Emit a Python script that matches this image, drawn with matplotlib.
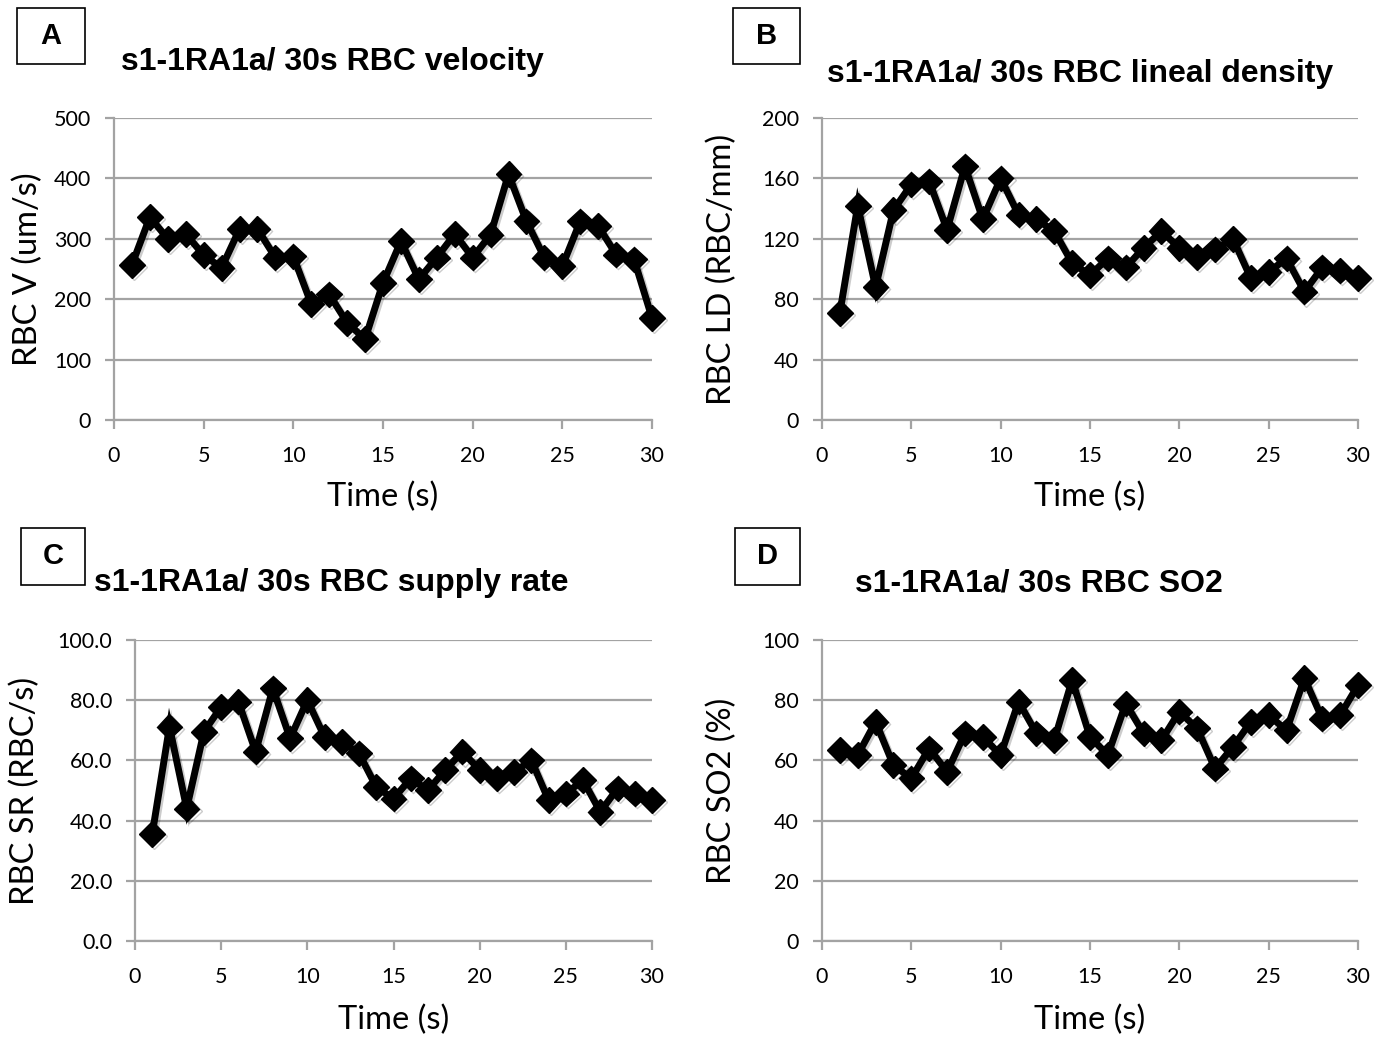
import matplotlib
matplotlib.use("Agg")
import matplotlib.pyplot as plt
import matplotlib.patheffects as pe
from matplotlib import font_manager

# seconds 1..30
time_s = list(range(1, 31))

velocity = [257, 336, 300, 308, 273, 252, 316, 316, 269, 271,
            192, 208, 161, 134, 227, 296, 233, 269, 308, 269,
            307, 407, 329, 269, 255, 329, 321, 274, 266, 169]

lineal_density = [71, 142, 88, 139, 156, 158, 126, 168, 133, 160,
                  136, 133, 125, 104, 96, 107, 101, 114, 125, 114,
                  108, 113, 120, 94, 98, 107, 85, 101, 99, 94]

supply_rate = [35.5, 71.2, 44.0, 69.5, 77.8, 79.5, 62.9, 83.9, 67.3, 80.0,
               67.8, 66.2, 62.3, 51.2, 47.3, 54.0, 50.1, 56.8, 62.9, 56.8,
               54.0, 56.2, 60.0, 46.8, 49.0, 53.4, 42.9, 50.7, 49.0, 46.8]

so2 = [63.4, 61.8, 72.8, 58.4, 54.0, 64.0, 56.2, 69.0, 67.8, 61.8,
       79.5, 69.0, 66.7, 86.7, 67.8, 61.8, 78.9, 69.0, 66.7, 76.2,
       70.6, 57.3, 64.5, 72.8, 75.0, 70.0, 87.3, 73.9, 75.0, 85.0]

titles = ["s1-1RA1a/ 30s RBC velocity", "s1-1RA1a/ 30s RBC lineal density",
          "s1-1RA1a/ 30s RBC supply rate", "s1-1RA1a/ 30s RBC SO2"]
ylabels = ["RBC V (um/s)", "RBC LD (RBC/mm)", "RBC SR (RBC/s)", "RBC SO2 (%)"]
letters = ["A", "B", "C", "D"]
yticks = [[0, 100, 200, 300, 400, 500], [0, 40, 80, 120, 160, 200],
          [0, 20, 40, 60, 80, 100], [0, 20, 40, 60, 80, 100]]
ytick_fmt = ["{:.0f}", "{:.0f}", "{:.1f}", "{:.0f}"]
xticks = [0, 5, 10, 15, 20, 25, 30]

installed = {f.name for f in font_manager.fontManager.ttflist}
title_font = "Liberation Sans Narrow" if "Liberation Sans Narrow" in installed else "Liberation Sans"
title_size = 27 if title_font == "Liberation Sans Narrow" else 23
body_font = "Lato"

W, H = 1388, 1039
fig = plt.figure(figsize=(W / 100, H / 100), dpi=100)

def px_axes(l, t, r, b):
    return fig.add_axes([l / W, 1 - b / H, (r - l) / W, (b - t) / H])

# pixel boxes: (left, top, right, bottom)
boxes = [(114, 118, 652, 420), (822, 118, 1358, 420),
         (135, 640, 652, 941), (822, 640, 1358, 941)]
title_pos = [(332, 62), (1080, 74), (331, 583), (1039, 583)]
letter_box = [(17, 8, 85, 64), (733, 8, 800, 64), (21, 528, 85, 585), (735, 528, 800, 585)]
ylabel_x = [28, 722, 25, 722]
xlabel_y = [497, 497, 1020, 1020]

series = [velocity, lineal_density, supply_rate, so2]
grid_col = "#a3a3a3"

for i in range(4):
    l, t, r, b = boxes[i]
    ax = px_axes(l, t, r, b)
    ax.plot(time_s, series[i], color="black", lw=5, marker="D", ms=13,
            solid_joinstyle="miter", clip_on=False, zorder=3,
            path_effects=[pe.SimpleLineShadow(offset=(1.5, -1.5), alpha=0.2, shadow_color="black"),
                          pe.Normal()])
    ax.set_xlim(0, 30)
    ax.set_ylim(yticks[i][0], yticks[i][-1])
    ax.set_xticks(xticks)
    ax.set_yticks(yticks[i])
    ax.set_yticklabels([ytick_fmt[i].format(v) for v in yticks[i]])
    ax.yaxis.grid(True, color=grid_col, lw=1.6)
    ax.set_axisbelow(True)
    for s in ["top", "right"]:
        ax.spines[s].set_visible(False)
    for s in ["left", "bottom"]:
        ax.spines[s].set_color(grid_col)
        ax.spines[s].set_linewidth(1.6)
    ax.tick_params(axis="both", direction="out", length=6.5, width=1.6, color=grid_col,
                   labelsize=15.5, labelcolor="black")
    ax.tick_params(axis="x", pad=12)
    ax.tick_params(axis="y", pad=10)
    for lab in ax.get_xticklabels() + ax.get_yticklabels():
        lab.set_family(body_font)

    fig.text(ylabel_x[i] / W, 1 - ((t + b) / 2) / H, ylabels[i], rotation=90,
             ha="center", va="center", fontsize=23.5, family=body_font)
    fig.text(((l + r) / 2) / W, 1 - xlabel_y[i] / H, "Time (s)",
             ha="center", va="center", fontsize=23.5, family=body_font)

    tx, ty = title_pos[i]
    fig.text(tx / W, 1 - ty / H, titles[i], ha="center", va="center",
             fontsize=title_size, fontweight="bold", family=title_font)

    bl, bt, br, bb = letter_box[i]
    fig.patches.append(plt.Rectangle((bl / W, 1 - bb / H), (br - bl) / W, (bb - bt) / H,
                                     transform=fig.transFigure, fill=False,
                                     edgecolor="black", lw=1.2))
    fig.text(((bl + br) / 2) / W, 1 - ((bt + bb) / 2) / H, letters[i],
             ha="center", va="center", fontsize=21, fontweight="bold", family="Liberation Sans")

fig.savefig("out.png", dpi=100)
